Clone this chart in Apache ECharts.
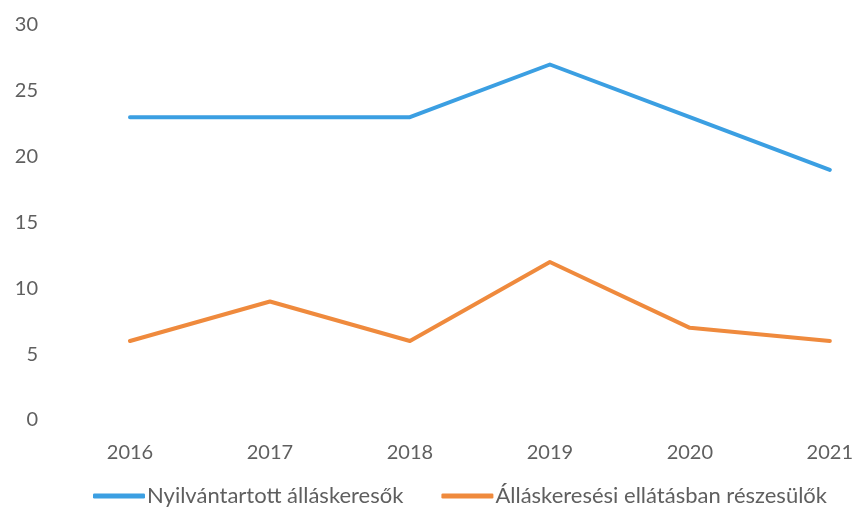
<!DOCTYPE html>
<html>
<head>
<meta charset="utf-8">
<script src="https://cdn.jsdelivr.net/npm/echarts@6/dist/echarts.min.js"></script>
<style>
  html, body { margin: 0; padding: 0; background: #fff; }
  #chart { width: 856px; height: 516px; }
</style>
</head>
<body>
<div id="chart"></div>
<script>
const years = ["2016", "2017", "2018", "2019", "2020", "2021"]
const registered = [23, 23, 23, 27, 23, 19]
const benefits = [6, 9, 6, 12, 7, 6]
const yTicks = [0, 5, 10, 15, 20, 25, 30]

const textColor = "#5f5f5f"
const font = "Lato, 'Open Sans', sans-serif"

const chart = echarts.init(document.getElementById("chart"), null, { renderer: "canvas" })

chart.setOption({
  animation: false,
  backgroundColor: "#fff",
  textStyle: { fontFamily: font },
  grid: { left: 130, right: 26, top: 25, bottom: 96 },
  legend: {
    bottom: 4,
    left: 88,
    itemWidth: 52,
    itemHeight: 5,
    itemGap: 38,
    icon: "roundRect",
    textStyle: { color: textColor, fontSize: 22, fontFamily: font, padding: [0, 0, 0, -3] },
    data: ["Nyilvántartott álláskeresők", "Álláskeresési ellátásban részesülők"]
  },
  xAxis: {
    type: "category",
    data: years,
    boundaryGap: false,
    axisLine: { show: false },
    axisTick: { show: false },
    axisLabel: { color: textColor, fontSize: 20, margin: 23 }
  },
  yAxis: {
    type: "value",
    min: yTicks[0],
    max: yTicks[yTicks.length - 1],
    interval: 5,
    splitLine: { show: false },
    axisLine: { show: false },
    axisTick: { show: false },
    axisLabel: { color: textColor, fontSize: 20, margin: 92 }
  },
  series: [
    {
      name: "Nyilvántartott álláskeresők",
      type: "line",
      data: registered,
      showSymbol: false,
      symbol: "none",
      color: "#3b9fe2",
      lineStyle: { width: 4, color: "#3b9fe2", cap: "round", join: "round" }
    },
    {
      name: "Álláskeresési ellátásban részesülők",
      type: "line",
      data: benefits,
      showSymbol: false,
      symbol: "none",
      color: "#ef8a3d",
      lineStyle: { width: 4, color: "#ef8a3d", cap: "round", join: "round" }
    }
  ]
})
</script>
</body>
</html>
